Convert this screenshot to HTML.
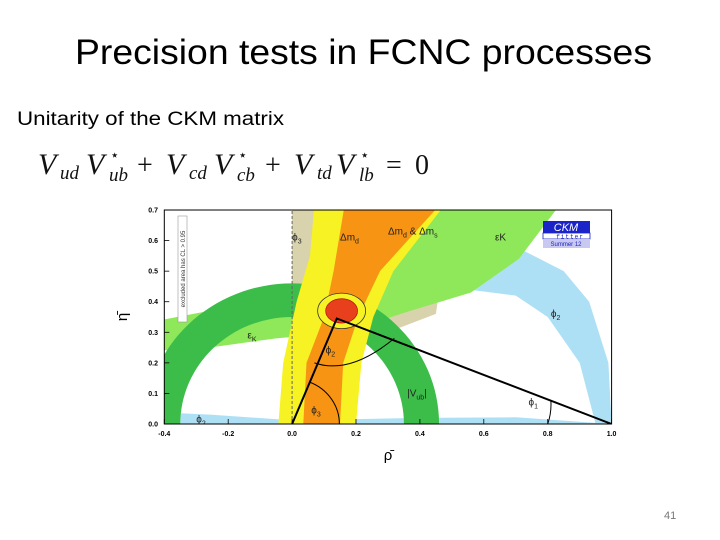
<!DOCTYPE html>
<html><head><meta charset="utf-8"><style>
html,body{margin:0;padding:0;background:#fff;width:720px;height:540px;overflow:hidden}
svg{display:block}
</style></head><body>
<svg id="s" width="720" height="540" viewBox="0 0 720 540" xmlns="http://www.w3.org/2000/svg">
<text x="75" y="64" font-family="Liberation Sans, sans-serif" font-size="35" textLength="577" lengthAdjust="spacingAndGlyphs" fill="#000">Precision tests in FCNC processes</text>
<text x="17" y="125" font-family="Liberation Sans, sans-serif" font-size="19" textLength="267" lengthAdjust="spacingAndGlyphs" fill="#000">Unitarity of the CKM matrix</text>
<g font-family="Liberation Serif, serif" fill="#111">
<text x="38" y="174" font-size="30" font-style="italic">V</text>
<text x="60" y="179" font-size="19" font-style="italic">ud</text>
<text x="86" y="174" font-size="30" font-style="italic">V</text>
<text x="110" y="160" font-size="15">⋆</text>
<text x="109" y="181" font-size="19" font-style="italic">ub</text>
<text x="137" y="174" font-size="28">+</text>
<text x="166" y="174" font-size="30" font-style="italic">V</text>
<text x="189" y="179" font-size="19" font-style="italic">cd</text>
<text x="214" y="174" font-size="30" font-style="italic">V</text>
<text x="238" y="160" font-size="15">⋆</text>
<text x="237" y="181" font-size="19" font-style="italic">cb</text>
<text x="265" y="174" font-size="28">+</text>
<text x="294" y="174" font-size="30" font-style="italic">V</text>
<text x="317" y="179" font-size="19" font-style="italic">td</text>
<text x="336" y="174" font-size="30" font-style="italic">V</text>
<text x="360" y="160" font-size="15">⋆</text>
<text x="359" y="181" font-size="19" font-style="italic">lb</text>
<text x="386" y="174" font-size="28">=</text>
<text x="415" y="174" font-size="28">0</text>
</g>
<text x="664" y="519" font-family="Liberation Sans, sans-serif" font-size="11" fill="#777">41</text>
<defs><clipPath id="clip"><rect x="164.3" y="210" width="447.4" height="214"/></clipPath></defs>
<g id="plot"></g>
</svg>
<script>
const xTicks=[-0.4,-0.2,0.0,0.2,0.4,0.6,0.8,1.0];
const yTicks=[0.0,0.1,0.2,0.3,0.4,0.5,0.6,0.7];
const beigeBand=[[0,0.3],[0,0.72],[0.5,0.72],[0.45,0.36],[0.3,0.3]];
const lightGreenUpper=[[-0.41,0.34],[-0.26,0.37],[-0.05,0.42],[0.08,0.48],[0.26,0.61],[0.35,0.72]];
const lightGreenLower=[[0.84,0.72],[0.71,0.54],[0.56,0.43],[0.37,0.37],[0.16,0.30],[-0.05,0.28],[-0.26,0.25],[-0.41,0.24]];
const blueOuter=[[1.0,0],[0.99,0.2],[0.93,0.4],[0.85,0.5],[0.7,0.58],[0.55,0.6],[0.4,0.6]];
const blueInner=[[0.45,0.44],[0.55,0.44],[0.7,0.42],[0.8,0.35],[0.9,0.2],[0.95,0]];
const blueStrip=[[-0.35,0],[-0.35,0.035],[-0.25,0.03],[0,0.012],[0.4,0.02],[0.7,0.022],[1.0,0]];
const yellowLeft=[[-0.043,0],[-0.028,0.2],[0.014,0.4],[0.056,0.55],[0.07,0.72]];
const yellowRight=[[0.48,0.72],[0.317,0.5],[0.254,0.35],[0.217,0.2],[0.2,0]];
const orangeLeft=[[0.035,0],[0.045,0.2],[0.1,0.35],[0.13,0.5],[0.165,0.72]];
const orangeRight=[[0.465,0.72],[0.275,0.5],[0.207,0.35],[0.16,0.2],[0.15,0]];
const vubRadii=[0.35,0.46];
const apex=[0.14,0.345];
const ellipseCenter=[0.155,0.37];
const labels=[["ϕ","3",0.0,0.6],["Δm","d",0.15,0.6],["Δm","d",0.3,0.62],["εK","",0.635,0.6],["ϕ","2",0.81,0.35],["ε","K",-0.14,0.28],["ϕ","2",0.105,0.23],["|V","ub",0.36,0.09],["ϕ","1",0.74,0.06],["ϕ","3",0.06,0.035],["ϕ","2",-0.3,0.005]];
const X0=164.3,XS=319.5,Y0=424,YS=305.7;
function sx(r){return X0+(r+0.4)*XS}
function sy(e){return Y0-e*YS}
const NS="http://www.w3.org/2000/svg";
const plot=document.getElementById('plot');
function mk(tag,attrs,parent){const el=document.createElementNS(NS,tag);for(const k in attrs)el.setAttribute(k,attrs[k]);(parent||plot).appendChild(el);return el}
function poly(pts){let d="";pts.forEach((p,i)=>{d+=(i?"L":"M")+sx(p[0]).toFixed(1)+","+sy(p[1]).toFixed(1)});return d}
const g=mk('g',{'clip-path':'url(#clip)'});


let el;
el=mk('path',{d:poly(beigeBand)+'Z',fill:'#d9d3ad'},g);

el=mk('path',{d:poly(blueOuter.concat(blueInner))+'Z',fill:'#aee0f5'},g);

el=mk('path',{d:poly(blueStrip)+'Z',fill:'#aee0f5'},g);

el=mk('path',{d:poly(lightGreenUpper.concat([[0.84,0.72]]).concat(lightGreenLower))+'Z',fill:'#8ee85a'},g);

{const ri=vubRadii[0],ro=vubRadii[1];
const d=`M${sx(-ro)},${sy(0)} A${ro*XS},${ro*YS} 0 0 1 ${sx(ro)},${sy(0)} L${sx(ri)},${sy(0)} A${ri*XS},${ri*YS} 0 0 0 ${sx(-ri)},${sy(0)}Z`;
el=mk('path',{d:d,fill:'#3cbd4a'},g);
}
el=mk('path',{d:poly(yellowLeft.concat(yellowRight))+'Z',fill:'#f6f224'},g);

el=mk('path',{d:poly(orangeLeft.concat(orangeRight))+'Z',fill:'#f79414'},g);

el=mk('line',{x1:sx(0),y1:sy(0),x2:sx(0),y2:sy(0.7),stroke:'#666','stroke-dasharray':'3,2','stroke-width':1},g);

{const c=ellipseCenter;
el=mk('ellipse',{cx:sx(c[0]),cy:sy(c[1]),rx:0.075*XS,ry:0.058*YS,fill:'#f6f224',stroke:'#333','stroke-width':0.8},g);

el=mk('ellipse',{cx:sx(c[0]),cy:sy(c[1]),rx:0.05*XS,ry:0.04*YS,fill:'#e8401c',stroke:'#a00','stroke-width':0.6},g);
}
el=mk('path',{d:poly([[0,0],apex,[1,0]]),fill:'none',stroke:'#000','stroke-width':2},g);

el=mk('path',{d:`M${sx(0.148)},${sy(0)} A${0.148*XS},${0.148*YS} 0 0 0 ${sx(0.055)},${sy(0.137)}`,fill:'none',stroke:'#000','stroke-width':1},g);

el=mk('path',{d:`M${sx(0.8)},${sy(0)} A${0.2*XS},${0.2*YS} 0 0 0 ${sx(0.81)},${sy(0.075)}`,fill:'none',stroke:'#000','stroke-width':1},g);

el=mk('path',{d:`M${sx(0.07)},${sy(0.2)} Q${sx(0.18)},${sy(0.16)} ${sx(0.32)},${sy(0.28)}`,fill:'none',stroke:'#000','stroke-width':1},g);

labels.forEach((l,i)=>{
  const t=mk('text',{x:sx(l[2]),y:sy(l[3]),'font-family':'Liberation Sans, sans-serif','font-size':10,fill:'#222'},g);
  
  
  const a=mk('tspan',{},t);a.textContent=l[0];
  if(l[1]){const b=mk('tspan',{'font-size':7,dy:3},t);b.textContent=l[1];}
  if(i===2){const c=mk('tspan',{dy:-3},t);c.textContent=' & Δm';const d=mk('tspan',{'font-size':7,dy:3},t);d.textContent='s';}
  if(i===7){const c=mk('tspan',{dy:-3},t);c.textContent='|';}
});
el=mk('rect',{x:X0,y:sy(0.7),width:1.4*XS,height:0.7*YS,fill:'none',stroke:'#000','stroke-width':1});

xTicks.forEach(v=>{
  const t=mk('text',{x:sx(v),y:436,'text-anchor':'middle','font-family':'Liberation Sans, sans-serif','font-size':7,'font-weight':'bold',fill:'#000'});
  t.textContent=v.toFixed(1);
  
  
  const m=mk('line',{x1:sx(v),x2:sx(v),y1:Y0,y2:Y0-5,stroke:'#000','stroke-width':0.8});
  
  
});
yTicks.forEach(v=>{
  const t=mk('text',{x:158,y:sy(v)+2.5,'text-anchor':'end','font-family':'Liberation Sans, sans-serif','font-size':7,'font-weight':'bold',fill:'#000'});
  t.textContent=v.toFixed(1);
  
  
  const m=mk('line',{x1:X0,x2:X0+5,y1:sy(v),y2:sy(v),stroke:'#000','stroke-width':0.8});
  
  
});
el=mk('text',{x:388,y:460,'text-anchor':'middle','font-family':'Liberation Sans, sans-serif','font-size':15,fill:'#000'});
el.textContent='ρ̄';
el=mk('text',{x:127,y:317,'text-anchor':'middle','font-family':'Liberation Sans, sans-serif','font-size':15,fill:'#000',transform:'rotate(-90 127 317)'});
el.textContent='η̄';
el=mk('rect',{x:178,y:216,width:9,height:106,fill:'#fff',stroke:'#999','stroke-width':0.6});

el=mk('text',{x:185,y:269,'text-anchor':'middle','font-family':'Liberation Sans, sans-serif','font-size':6,fill:'#333',transform:'rotate(-90 185 269)'});
el.textContent='excluded area has CL > 0.95';
el=mk('rect',{x:543,y:221,width:47,height:12,fill:'#1a24c8'});

el=mk('text',{x:566,y:231,'text-anchor':'middle','font-family':'Liberation Sans, sans-serif','font-size':11,'font-style':'italic',fill:'#fff'});
el.textContent='CKM';
el=mk('rect',{x:543,y:233,width:47,height:6,fill:'#fff',stroke:'#1a24c8','stroke-width':0.8});

el=mk('text',{x:570,y:238.5,'text-anchor':'middle','font-family':'Liberation Mono, monospace','font-size':6,fill:'#1a24c8','letter-spacing':'1'});
el.textContent='fitter';
el=mk('rect',{x:543,y:239,width:47,height:9,fill:'#c8c8f0'});

el=mk('text',{x:566,y:246,'text-anchor':'middle','font-family':'Liberation Sans, sans-serif','font-size':6,fill:'#1a24c8'});
el.textContent='Summer 12';
</script>
</body></html>
